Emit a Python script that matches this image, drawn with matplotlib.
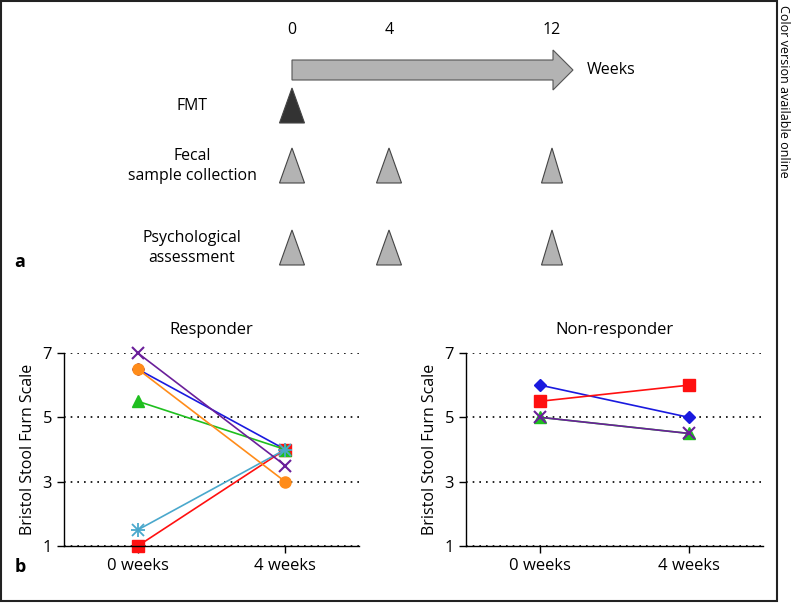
import matplotlib
matplotlib.use("Agg")
import matplotlib.pyplot as plt
from matplotlib.patches import Polygon, Rectangle

plt.rcParams['font.family'] = ['Open Sans', 'DejaVu Sans']

# ---- data ----
timepoints = ["0 weeks", "4 weeks"]

# responder patients (Bristol scale at 0 and 4 weeks)
resp_blue = [6.5, 4.0]
resp_red = [1.0, 4.0]
resp_green = [5.5, 4.0]
resp_cyan = [1.5, 4.0]
resp_purple = [7.0, 3.5]
resp_orange = [6.5, 3.0]

# non-responder patients
nonresp_blue = [6.0, 5.0]
nonresp_red = [5.5, 6.0]
nonresp_green = [5.0, 4.5]
nonresp_purple = [5.0, 4.5]

# timeline schedule
week_labels = ["0", "4", "12"]
week_x = [292, 389, 552]          # layout positions (pixels)
rows = ["FMT", "Fecal\nsample collection", "Psychological\nassessment"]
row_events = [[0], [0, 1, 2], [0, 1, 2]]

fig = plt.figure(figsize=(7.92, 6.03), dpi=100)

# ---- panel a: study design ----
top = fig.add_axes([0, 0, 1, 1])
top.set_xlim(0, 792)
top.set_ylim(603, 0)
top.axis("off")

for lab, x in zip(week_labels, week_x):
    top.text(x, 30, lab, ha="center", va="center", fontsize=11.5)

top.add_patch(Polygon([(292, 60), (553, 60), (553, 50), (573, 70), (553, 90),
                       (553, 80), (292, 80)], closed=True,
                      facecolor="#b3b3b3", edgecolor="#555555", lw=0.8))
top.text(587, 70, "Weeks", ha="left", va="center", fontsize=11.5)

row_y = [88, 148, 230]
for i, (name, evs) in enumerate(zip(rows, row_events)):
    y0 = row_y[i]
    top.text(192, y0 + 18, name, ha="center", va="center", fontsize=11.4,
             linespacing=1.35)
    for e in evs:
        x = week_x[e]
        hw = 10.5 if e == 2 else 12.5
        fc = "#333333" if i == 0 else "#b3b3b3"
        top.add_patch(Polygon([(x, y0), (x + hw, y0 + 35), (x - hw, y0 + 35)],
                              closed=True, facecolor=fc, edgecolor="#444444", lw=0.8))

top.text(20, 262, "a", ha="center", va="center", fontsize=13, fontweight="bold")
top.text(20, 567, "b", ha="center", va="center", fontsize=13, fontweight="bold")

# border and side note
fig.patches.append(Rectangle((1 / 792, 2 / 603), 776 / 792, 600 / 603,
                             transform=fig.transFigure, fill=False,
                             edgecolor="#222222", lw=1.5))
fig.text(784 / 792, 1 - 5 / 603, "Color version available online", rotation=270,
         ha="center", va="top", fontsize=9)

# ---- panel b: Bristol scale ----
def style_axis(ax, title):
    ax.set_xlim(-0.5, 1.5)
    ax.set_ylim(1, 7)
    ax.set_yticks([1, 3, 5, 7])
    ax.set_xticks([0, 1])
    ax.set_xticklabels(timepoints)
    ax.spines["top"].set_visible(False)
    ax.spines["right"].set_visible(False)
    for s in ["left", "bottom"]:
        ax.spines[s].set_linewidth(1.0)
    ax.tick_params(labelsize=12, length=5, width=1.0)
    ax.yaxis.grid(True, linestyle=(0, (1, 3)), color="black", lw=1.2)
    ax.set_axisbelow(True)
    ax.set_title(title, fontsize=12, pad=14)
    ax.set_ylabel("Bristol Stool Furn Scale", fontsize=11.5, labelpad=5)
    ax.patch.set_alpha(0)

x = [0, 1]
ax1 = fig.add_axes([64 / 792, 1 - 546 / 603, 295 / 792, 193 / 603])
style_axis(ax1, "Responder")
ax1.plot(x, resp_blue, color="#1a1adf", marker="D", ms=6, lw=1.2, clip_on=False)
ax1.plot(x, resp_red, color="#ff1010", marker="s", ms=9, lw=1.2, clip_on=False)
ax1.plot(x, resp_green, color="#1fbf1f", marker="^", ms=9, lw=1.2, clip_on=False)
ax1.plot(x, resp_cyan, color="#4aa8cc", marker="x", ms=9, mew=1.3, lw=1.2, clip_on=False)
ax1.plot(x, resp_cyan, color="#4aa8cc", marker="+", ms=10, mew=1.3, lw=0, clip_on=False)
ax1.plot(x, resp_purple, color="#6a1f9a", marker="x", ms=9, mew=1.5, lw=1.2, clip_on=False)
ax1.plot(x, resp_orange, color="#ff8c1a", marker="o", ms=8, lw=1.2, clip_on=False)

ax2 = fig.add_axes([466 / 792, 1 - 546 / 603, 297 / 792, 193 / 603])
style_axis(ax2, "Non-responder")
ax2.plot(x, nonresp_blue, color="#1a1adf", marker="D", ms=6, lw=1.2, clip_on=False)
ax2.plot(x, nonresp_red, color="#ff1010", marker="s", ms=9, lw=1.2, clip_on=False)
ax2.plot(x, nonresp_green, color="#1fbf1f", marker="^", ms=9, lw=1.2, clip_on=False)
ax2.plot(x, nonresp_purple, color="#6a1f9a", marker="x", ms=9, mew=1.5, lw=1.2, clip_on=False)

fig.savefig("out.png", dpi=100)
